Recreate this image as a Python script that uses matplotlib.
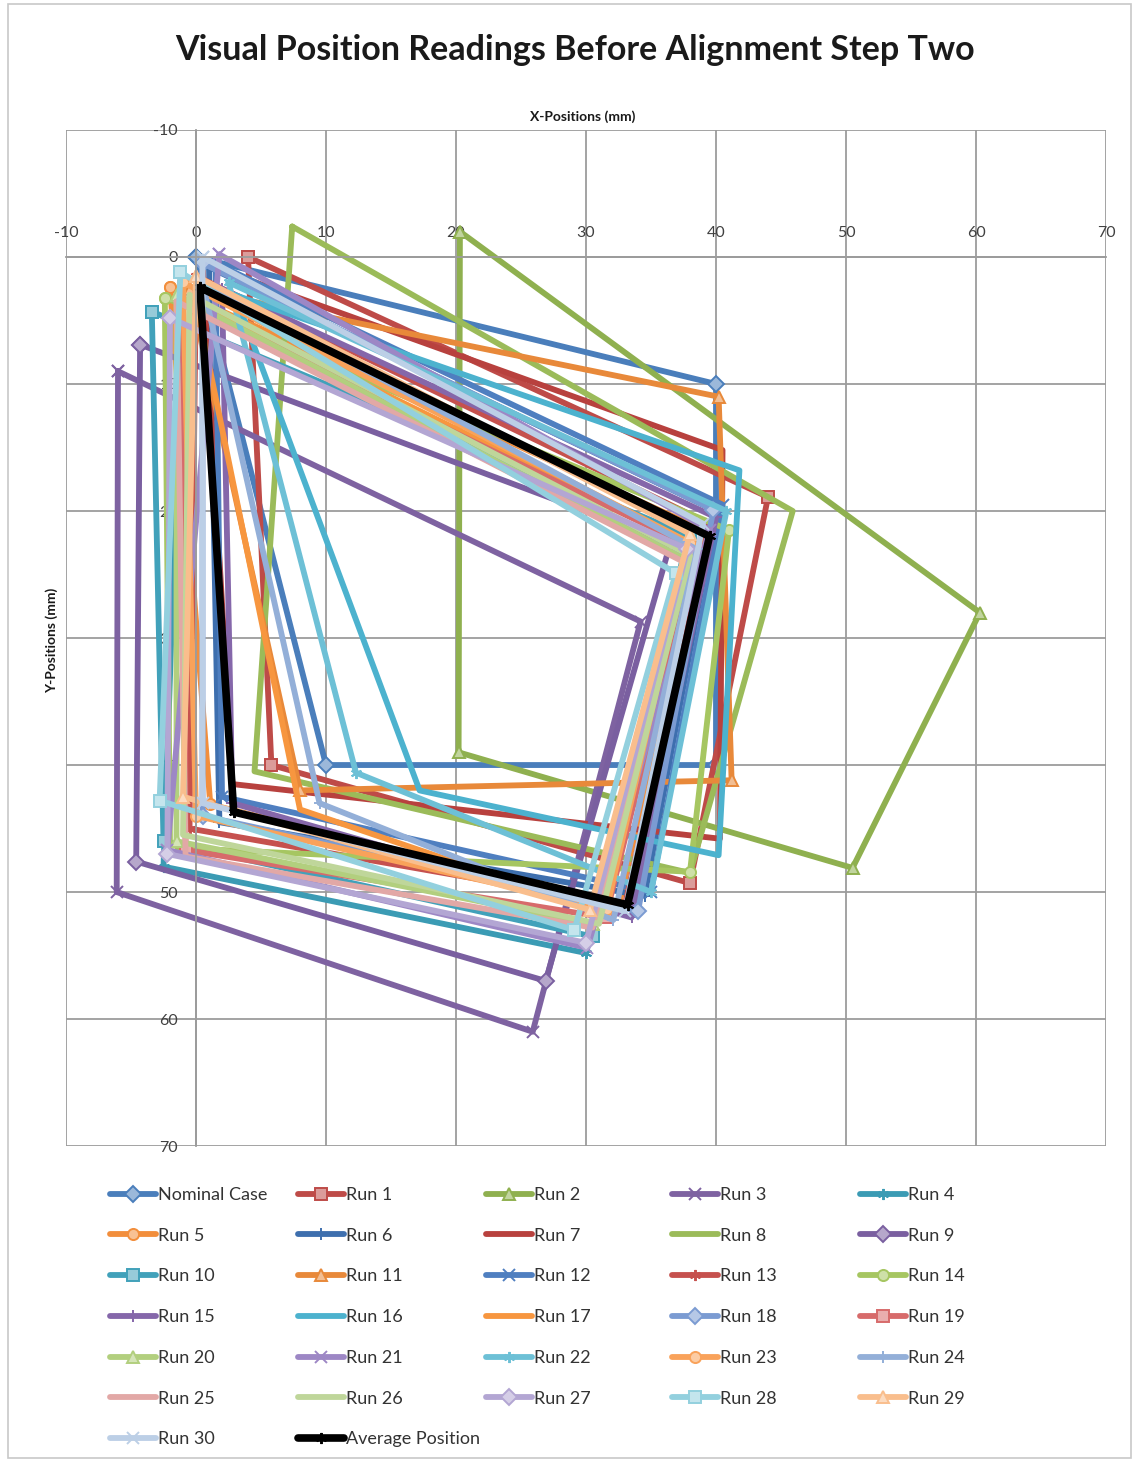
import matplotlib
matplotlib.use("Agg")
import matplotlib.pyplot as plt
from matplotlib.patches import Rectangle
from matplotlib.colors import to_rgb

plt.rcParams['font.family'] = ['Lato', 'DejaVu Sans']
plt.rcParams['axes.unicode_minus'] = False

# Corner readings in mm, in drawing order: top-left, top-right, bottom-right, bottom-left
nominal_x = [0.0, 40.0, 40.0, 10.0]
nominal_y = [0.0, 10.0, 40.0, 40.0]
run1_x = [4.0, 44.0, 38.0, 5.8]
run1_y = [0.0, 18.9, 49.3, 40.0]
run2_x = [20.3, 60.3, 50.5, 20.2]
run2_y = [-2.0, 28.0, 48.1, 39.0]
run3_x = [-6.0, 34.2, 25.9, -6.1]
run3_y = [9.0, 28.7, 61.0, 50.0]
run4_x = [-1.0, 37.5, 30.0, -2.5]
run4_y = [3.0, 23.5, 54.8, 48.0]
run5_x = [-2.0, 39.0, 32.5, 1.1]
run5_y = [2.4, 21.5, 51.2, 43.1]
run6_x = [1.0, 40.0, 34.5, 1.8]
run6_y = [0.8, 20.0, 50.3, 44.5]
run7_x = [0.5, 40.5, 40.3, 2.8]
run7_y = [0.5, 15.2, 45.8, 41.5]
run8_x = [7.4, 45.9, 38.0, 4.5]
run8_y = [-2.4, 20.0, 48.5, 40.5]
run9_x = [-4.3, 36.5, 26.9, -4.6]
run9_y = [6.9, 22.5, 57.0, 47.6]
run10_x = [-3.4, 38.0, 30.5, -2.5]
run10_y = [4.3, 22.0, 53.5, 46.0]
run11_x = [-0.5, 40.2, 41.2, 8.0]
run11_y = [2.5, 11.0, 41.2, 42.0]
run12_x = [1.5, 40.5, 35.0, 2.0]
run12_y = [0.5, 19.5, 50.0, 42.5]
run13_x = [0.0, 39.5, 33.0, -0.5]
run13_y = [1.5, 21.0, 51.0, 45.0]
run14_x = [-2.4, 41.0, 38.0, -2.0]
run14_y = [3.2, 21.5, 48.4, 46.5]
run15_x = [2.0, 40.0, 33.5, 2.8]
run15_y = [2.5, 20.5, 52.0, 43.0]
run16_x = [3.0, 41.8, 40.2, 17.2]
run16_y = [3.0, 16.8, 47.1, 42.0]
run17_x = [0.0, 38.5, 31.0, 8.0]
run17_y = [3.5, 22.8, 51.5, 43.5]
run18_x = [0.5, 39.8, 34.0, 0.5]
run18_y = [0.5, 19.9, 51.5, 44.0]
run19_x = [-1.0, 38.5, 31.5, -0.8]
run19_y = [3.5, 23.0, 52.0, 46.7]
run20_x = [-1.5, 38.0, 30.5, -1.5]
run20_y = [3.0, 24.0, 52.5, 46.0]
run21_x = [1.8, 39.5, 30.1, -2.2]
run21_y = [-0.2, 21.5, 54.4, 46.7]
run22_x = [2.5, 40.8, 35.0, 12.3]
run22_y = [2.0, 20.0, 50.0, 40.6]
run23_x = [-1.0, 38.0, 31.6, 0.0]
run23_y = [2.0, 22.5, 51.3, 44.0]
run24_x = [0.5, 38.5, 32.1, 9.5]
run24_y = [2.0, 23.0, 52.2, 43.0]
run25_x = [-1.5, 37.5, 30.5, -0.8]
run25_y = [3.5, 24.0, 52.8, 47.2]
run26_x = [-0.5, 38.0, 31.0, -1.0]
run26_y = [3.0, 23.5, 52.5, 45.5]
run27_x = [-2.0, 37.8, 30.0, -2.2]
run27_y = [4.8, 23.0, 54.0, 47.0]
run28_x = [-1.2, 36.9, 29.1, -2.8]
run28_y = [1.2, 24.9, 53.0, 42.8]
run29_x = [0.0, 38.0, 30.3, -1.0]
run29_y = [1.5, 21.8, 51.4, 42.5]
run30_x = [0.5, 39.0, 33.0, 0.5]
run30_y = [0.0, 21.0, 51.5, 43.0]
average_x = [0.3, 39.5, 33.2, 2.9]
average_y = [2.4, 22.0, 51.0, 43.7]

series_names = ['Nominal Case'] + [f'Run {i}' for i in range(1, 31)] + ['Average Position']
series_x = [nominal_x, run1_x, run2_x, run3_x, run4_x, run5_x, run6_x, run7_x, run8_x,
            run9_x, run10_x, run11_x, run12_x, run13_x, run14_x, run15_x, run16_x,
            run17_x, run18_x, run19_x, run20_x, run21_x, run22_x, run23_x, run24_x,
            run25_x, run26_x, run27_x, run28_x, run29_x, run30_x, average_x]
series_y = [nominal_y, run1_y, run2_y, run3_y, run4_y, run5_y, run6_y, run7_y, run8_y,
            run9_y, run10_y, run11_y, run12_y, run13_y, run14_y, run15_y, run16_y,
            run17_y, run18_y, run19_y, run20_y, run21_y, run22_y, run23_y, run24_y,
            run25_y, run26_y, run27_y, run28_y, run29_y, run30_y, average_y]

series_colors = ['#4A7EBB', '#BE4B48', '#8FB04F', '#7E62A1', '#3B9BB4', '#F28E3C',
                 '#3E6FAE', '#B8413E', '#9BBB59', '#7A5FA0', '#41A1BA', '#E8893A',
                 '#4F7FC0', '#C6514E', '#A6C661', '#8567AA', '#4CB2CE', '#F7963F',
                 '#7B9BD2', '#D76B6B', '#B2CF7E', '#9D87C5', '#6DC0D6', '#F9A25A',
                 '#93AFD8', '#E2A8A6', '#BFD69A', '#B3A6D3', '#93D0DE', '#F9BE8D',
                 '#BCCFE6', '#000000']

ASTER = (6, 2, 0)
marker_cycle = ['D', 's', '^', 'x', ASTER, 'o', '+', None, None]
series_markers = [marker_cycle[i % 9] for i in range(31)] + [ASTER]


def tint(c, f=0.45):
    r, g, b = to_rgb(c)
    return (r + (1 - r) * f, g + (1 - g) * f, b + (1 - b) * f)


fig = plt.figure(figsize=(11.38, 14.62), dpi=100)
fig.patches.append(Rectangle((0.007, 0.003), 0.987, 0.994, transform=fig.transFigure,
                             fill=False, edgecolor='#c8c8c8', lw=1.2))

ax = fig.add_axes([0.058, 0.2161, 0.9139, 0.695])
ax.set_xlim(-10, 70)
ax.set_ylim(70, -10)
ticks = list(range(-10, 71, 10))
ax.set_xticks(ticks)
ax.set_yticks(ticks)
ax.grid(True, color='#9c9c9c', lw=1.3)
ax.set_axisbelow(True)
for side in ('bottom', 'right'):
    ax.spines[side].set_visible(False)
ax.spines['top'].set_position(('data', 0))
ax.spines['left'].set_position(('data', 0))
for side in ('top', 'left'):
    ax.spines[side].set_color('#9c9c9c')
    ax.spines[side].set_linewidth(1.3)
ax.xaxis.tick_top()
ax.tick_params(axis='x', length=0, pad=12, labelsize=11.5, labelcolor='#404040')
ax.tick_params(axis='y', length=0, pad=13, labelsize=11.5, labelcolor='#404040')

handles = []
for name, xs, ys, col, mk in zip(series_names, series_x, series_y, series_colors, series_markers):
    xc = list(xs) + [xs[0]]
    yc = list(ys) + [ys[0]]
    is_avg = name == 'Average Position'
    h, = ax.plot(xc, yc, color=col, lw=5.5 if is_avg else 4.2,
                 marker=mk, ms=8 if mk is not None else 0,
                 mfc=tint(col) if not is_avg else '#333333', mec=col, mew=1.4,
                 solid_joinstyle='round', solid_capstyle='round', label=name)
    handles.append(h)

fig.text(0.505, 0.9655, 'Visual Position Readings Before Alignment Step Two',
         ha='center', va='center', fontsize=24.5, fontweight='bold', color='#1a1a1a')
fig.text(0.512, 0.920, 'X-Positions (mm)', ha='center', va='center',
         fontsize=10, fontweight='bold', color='#1a1a1a')
fig.text(0.045, 0.562, 'Y-Positions (mm)', ha='center', va='center', rotation=90,
         fontsize=10, fontweight='bold', color='#1a1a1a')

# legend: five equally spaced columns filled row by row
col_px = [110, 298, 486, 672, 860]
for c, px in enumerate(col_px):
    idx = list(range(c, len(handles), 5))
    fig.legend([handles[i] for i in idx], [series_names[i] for i in idx],
               loc='upper left', bbox_to_anchor=(px / 1138, 1 - 1187 / 1462),
               frameon=False, fontsize=13, handlelength=2.55, handletextpad=0.1,
               labelspacing=1.37, borderpad=0, borderaxespad=0, numpoints=1,
               labelcolor='#333333')

fig.savefig('out.png', dpi=100)
